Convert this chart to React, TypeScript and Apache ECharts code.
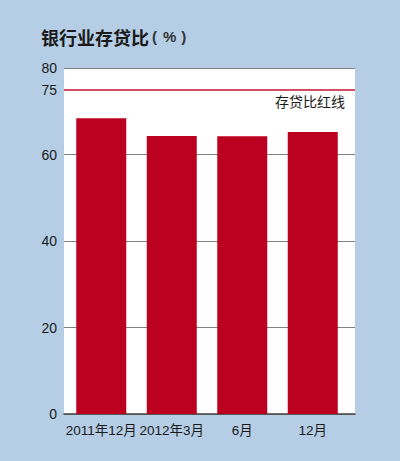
import * as echarts from 'echarts';
import { useEffect, useRef } from 'react';

const categories = ['2011年12月', '2012年3月', '6月', '12月'];
const ratios = [68.4, 64.3, 64.2, 65.2];
const redLine = 75;
const redLineName = '存贷比红线';
const yLabels = [0, 20, 40, 60, 75, 80];

const App = () => {
  const chartRef = useRef<HTMLDivElement>(null);

  useEffect(() => {
    if (chartRef.current === null) return;
    const chart = echarts.init(chartRef.current, null, { renderer: 'svg' });

    const font = '"Liberation Sans", Arial, "Noto Sans CJK SC", sans-serif';

    chart.setOption({
      animation: false,
      backgroundColor: '#b5cee6',
      textStyle: { fontFamily: font },
      title: {
        left: 36,
        top: 23,
        text: '{b|银行业存贷比}{p|(}{q|%}{p|)}',
        textStyle: {
          rich: {
            b: {
              fontFamily: '"Noto Sans CJK SC", sans-serif',
              fontWeight: 'bold',
              fontSize: 18,
              color: '#1a1a1a',
            },
            p: {
              fontFamily: font,
              fontSize: 15,
              color: '#333',
              padding: [0, 0, 0, 3],
            },
            q: {
              fontFamily: font,
              fontSize: 15,
              color: '#333',
              padding: [0, 2, 0, 6],
            },
          },
        },
      },
      grid: [
        {
          left: 64,
          right: 45,
          top: 68,
          bottom: 47,
          show: true,
          backgroundColor: '#ffffff',
          borderWidth: 0,
        },
        { left: 66, width: 282, top: 68, bottom: 47 },
      ],
      xAxis: [
        {
          gridIndex: 0,
          type: 'category',
          data: categories,
          axisLine: { lineStyle: { color: '#444', width: 1.5 } },
          axisTick: { show: false },
          axisLabel: { show: false },
        },
        {
          gridIndex: 1,
          type: 'category',
          data: categories,
          axisLine: { show: false },
          axisTick: { show: false },
          axisLabel: {
            interval: 0,
            hideOverlap: false,
            margin: 10,
            fontSize: 13.5,
            color: '#1a1a1a',
            fontFamily: font,
          },
        },
      ],
      yAxis: [
        {
          gridIndex: 0,
          type: 'value',
          min: 0,
          max: 80,
          interval: 20,
          axisLine: { show: false },
          axisTick: { show: false },
          axisLabel: {
            customValues: yLabels,
            margin: 7,
            fontSize: 14,
            color: '#1a1a1a',
            fontFamily: font,
          },
          splitLine: { lineStyle: { color: '#808080', width: 1.2 } },
        },
        {
          gridIndex: 1,
          type: 'value',
          min: 0,
          max: 80,
          show: false,
        },
      ],
      series: [
        {
          type: 'line',
          xAxisIndex: 0,
          yAxisIndex: 0,
          data: categories.map(() => '-'),
          symbol: 'none',
          silent: true,
          markLine: {
            silent: true,
            symbol: 'none',
            lineStyle: { color: '#c01530', width: 1.6, type: 'solid' },
            label: {
              position: 'insideEndBottom',
              formatter: redLineName,
              fontFamily: '"Noto Sans CJK SC", sans-serif',
              fontSize: 14,
              color: '#1a1a1a',
              distance: [10, 4],
            },
            data: [{ yAxis: redLine }],
          },
        },
        {
          type: 'bar',
          xAxisIndex: 1,
          yAxisIndex: 1,
          data: ratios,
          barWidth: 50,
          itemStyle: { color: '#bc001f' },
        },
      ],
    });

    return () => {
      chart.dispose();
    };
  }, []);

  return (
    <div
      ref={chartRef}
      style={{ position: 'fixed', left: 0, top: 0, width: 400, height: 461 }}
    ></div>
  );
};

export default App;
